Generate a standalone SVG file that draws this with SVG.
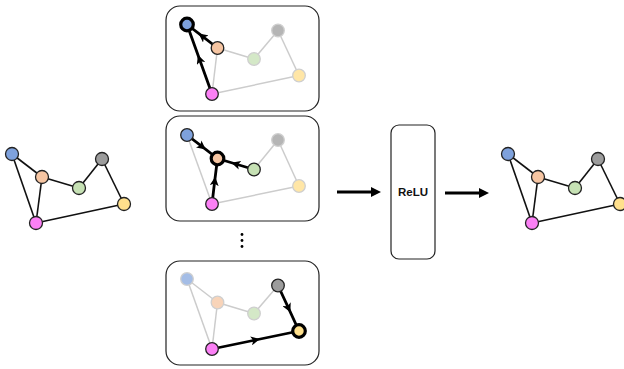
<svg xmlns="http://www.w3.org/2000/svg" width="624" height="369" viewBox="0 0 624 369">
  <style>
    .bg { fill: #ffffff; }
    .panel { fill: #ffffff; stroke: #222222; stroke-width: 1.2; }
    .edge { fill: none; stroke: #111111; stroke-width: 1.6; }
    .dim { fill: none; stroke: #cccccc; stroke-width: 1.5; }
    .msg { fill: none; stroke: #000000; stroke-width: 2.8; marker-mid: url(#mid); }
    .flow { fill: none; stroke: #000000; stroke-width: 2.8; marker-end: url(#head); }
    .n { stroke: #222222; stroke-width: 1.3; }
    .f { stroke: #cfcfcf; stroke-width: 1.3; }
    .t { stroke: #000000; stroke-width: 3.2; }
    .blue { fill: #7ea1dc; }
    .orange { fill: #f6c5a2; }
    .green { fill: #c6e1b4; }
    .gray { fill: #9c9c9c; }
    .yellow { fill: #ffe08c; }
    .pink { fill: #fb80f5; }
    .f.blue { fill: #a4bde6; }
    .f.orange { fill: #f8d4b9; }
    .f.green { fill: #d4e8c7; }
    .f.gray { fill: #b5b5b5; }
    .f.yellow { fill: #ffe6a6; }
    .label { font-family: "Liberation Sans", Arial, sans-serif; font-size: 11.5px; font-weight: bold; fill: #111111; }
  </style>
  <defs>
    <marker id="mid" viewBox="0 0 10 10" refX="5" refY="5" markerWidth="9" markerHeight="9" markerUnits="userSpaceOnUse" orient="auto">
      <path d="M0,0 L10,5 L0,10 L2.5,5 z" fill="#000000"/>
    </marker>
    <marker id="head" viewBox="0 0 10 10" refX="2" refY="5" markerWidth="10" markerHeight="10" markerUnits="userSpaceOnUse" orient="auto">
      <path d="M0,0 L10,5 L0,10 z" fill="#000000"/>
    </marker>
  </defs>

  <rect class="bg" x="0" y="0" width="624" height="369"/>

  <!-- input graph -->
  <g id="input-graph">
    <g id="input-edges">
      <line class="edge" x1="12" y1="154" x2="42" y2="177"/>
      <line class="edge" x1="12" y1="154" x2="36" y2="223"/>
      <line class="edge" x1="42" y1="177" x2="36" y2="223"/>
      <line class="edge" x1="42" y1="177" x2="79" y2="188"/>
      <line class="edge" x1="79" y1="188" x2="102" y2="159"/>
      <line class="edge" x1="102" y1="159" x2="124" y2="204"/>
      <line class="edge" x1="124" y1="204" x2="36" y2="223"/>
    </g>
    <g id="in-blue"><circle class="n blue" cx="12" cy="154" r="6.5"/></g>
    <g id="in-orange"><circle class="n orange" cx="42" cy="177" r="6.5"/></g>
    <g id="in-green"><circle class="n green" cx="79" cy="188" r="6.5"/></g>
    <g id="in-gray"><circle class="n gray" cx="102" cy="159" r="6.5"/></g>
    <g id="in-yellow"><circle class="n yellow" cx="124" cy="204" r="6.5"/></g>
    <g id="in-pink"><circle class="n pink" cx="36" cy="223" r="6.5"/></g>
  </g>

  <!-- panel 1: aggregation into the blue node -->
  <g id="panel-1">
    <rect class="panel" x="166" y="6" width="153" height="105" rx="14"/>
    <g id="p1-edges">
      <line class="dim" x1="217.5" y1="48" x2="212" y2="94"/>
      <line class="dim" x1="217.5" y1="48" x2="254" y2="59"/>
      <line class="dim" x1="254" y1="59" x2="278" y2="30.5"/>
      <line class="dim" x1="278" y1="30.5" x2="299" y2="75.5"/>
      <line class="dim" x1="299" y1="75.5" x2="212" y2="94"/>
      <path class="msg" d="M217.5,48 L202.2,36.2 L187,24.5"/>
      <path class="msg" d="M212,94 L199.5,59.2 L187,24.5"/>
    </g>
    <g id="p1-orange"><circle class="n orange" cx="217.5" cy="48" r="6.3"/></g>
    <g id="p1-green"><circle class="f green" cx="254" cy="59" r="6.3"/></g>
    <g id="p1-gray"><circle class="f gray" cx="278" cy="30.5" r="6.3"/></g>
    <g id="p1-yellow"><circle class="f yellow" cx="299" cy="75.5" r="6.3"/></g>
    <g id="p1-pink"><circle class="n pink" cx="212" cy="94" r="6.3"/></g>
    <g id="p1-blue"><circle class="t blue" cx="187" cy="24.5" r="6.3"/></g>
  </g>

  <!-- panel 2: aggregation into the orange node -->
  <g id="panel-2">
    <rect class="panel" x="166" y="116" width="153" height="105" rx="14"/>
    <g id="p2-edges">
      <line class="dim" x1="187" y1="135" x2="212" y2="204"/>
      <line class="dim" x1="254" y1="169.5" x2="278" y2="140"/>
      <line class="dim" x1="278" y1="140" x2="299" y2="186"/>
      <line class="dim" x1="299" y1="186" x2="212" y2="204"/>
      <path class="msg" d="M187,135 L202.2,146.7 L217.5,158.5"/>
      <path class="msg" d="M254,169.5 L235.7,164 L217.5,158.5"/>
      <path class="msg" d="M212,204 L214.7,181.2 L217.5,158.5"/>
    </g>
    <g id="p2-blue"><circle class="n blue" cx="187" cy="135" r="6.3"/></g>
    <g id="p2-green"><circle class="n green" cx="254" cy="169.5" r="6.3"/></g>
    <g id="p2-gray"><circle class="f gray" cx="278" cy="140" r="6.3"/></g>
    <g id="p2-yellow"><circle class="f yellow" cx="299" cy="186" r="6.3"/></g>
    <g id="p2-pink"><circle class="n pink" cx="212" cy="204" r="6.3"/></g>
    <g id="p2-orange"><circle class="t orange" cx="217.5" cy="158.5" r="6.3"/></g>
  </g>

  <!-- vertical ellipsis between panels -->
  <g id="ellipsis" fill="#000000">
    <circle cx="242" cy="234.5" r="1.4"/>
    <circle cx="242" cy="240.5" r="1.4"/>
    <circle cx="242" cy="246.5" r="1.4"/>
  </g>

  <!-- panel 3: aggregation into the yellow node -->
  <g id="panel-3">
    <rect class="panel" x="166" y="261" width="153" height="104" rx="14"/>
    <g id="p3-edges">
      <line class="dim" x1="187" y1="279" x2="217.5" y2="302.5"/>
      <line class="dim" x1="187" y1="279" x2="212" y2="349"/>
      <line class="dim" x1="217.5" y1="302.5" x2="212" y2="349"/>
      <line class="dim" x1="217.5" y1="302.5" x2="254" y2="313.5"/>
      <line class="dim" x1="254" y1="313.5" x2="278" y2="285.5"/>
      <path class="msg" d="M278,285.5 L288.5,308.2 L299,331"/>
      <path class="msg" d="M212,349 L255.5,340 L299,331"/>
    </g>
    <g id="p3-blue"><circle class="f blue" cx="187" cy="279" r="6.3"/></g>
    <g id="p3-orange"><circle class="f orange" cx="217.5" cy="302.5" r="6.3"/></g>
    <g id="p3-green"><circle class="f green" cx="254" cy="313.5" r="6.3"/></g>
    <g id="p3-gray"><circle class="n gray" cx="278" cy="285.5" r="6.3"/></g>
    <g id="p3-pink"><circle class="n pink" cx="212" cy="349" r="6.3"/></g>
    <g id="p3-yellow"><circle class="t yellow" cx="299" cy="331" r="6.3"/></g>
  </g>

  <!-- activation block -->
  <g id="relu">
    <rect class="panel" x="391" y="125" width="44" height="134" rx="8"/>
    <text class="label" x="413" y="196" text-anchor="middle">ReLU</text>
  </g>

  <g id="connectors">
    <line class="flow" x1="337" y1="192" x2="373" y2="192"/>
    <line class="flow" x1="445" y1="193" x2="481" y2="193"/>
  </g>

  <!-- output graph -->
  <g id="output-graph">
    <g id="output-edges">
      <line class="edge" x1="508" y1="154" x2="538" y2="177"/>
      <line class="edge" x1="508" y1="154" x2="532" y2="223"/>
      <line class="edge" x1="538" y1="177" x2="532" y2="223"/>
      <line class="edge" x1="538" y1="177" x2="575" y2="188"/>
      <line class="edge" x1="575" y1="188" x2="598" y2="159"/>
      <line class="edge" x1="598" y1="159" x2="620" y2="204"/>
      <line class="edge" x1="620" y1="204" x2="532" y2="223"/>
    </g>
    <g id="out-blue"><circle class="n blue" cx="508" cy="154" r="6.5"/></g>
    <g id="out-orange"><circle class="n orange" cx="538" cy="177" r="6.5"/></g>
    <g id="out-green"><circle class="n green" cx="575" cy="188" r="6.5"/></g>
    <g id="out-gray"><circle class="n gray" cx="598" cy="159" r="6.5"/></g>
    <g id="out-yellow"><circle class="n yellow" cx="620" cy="204" r="6.5"/></g>
    <g id="out-pink"><circle class="n pink" cx="532" cy="223" r="6.5"/></g>
  </g>
</svg>
